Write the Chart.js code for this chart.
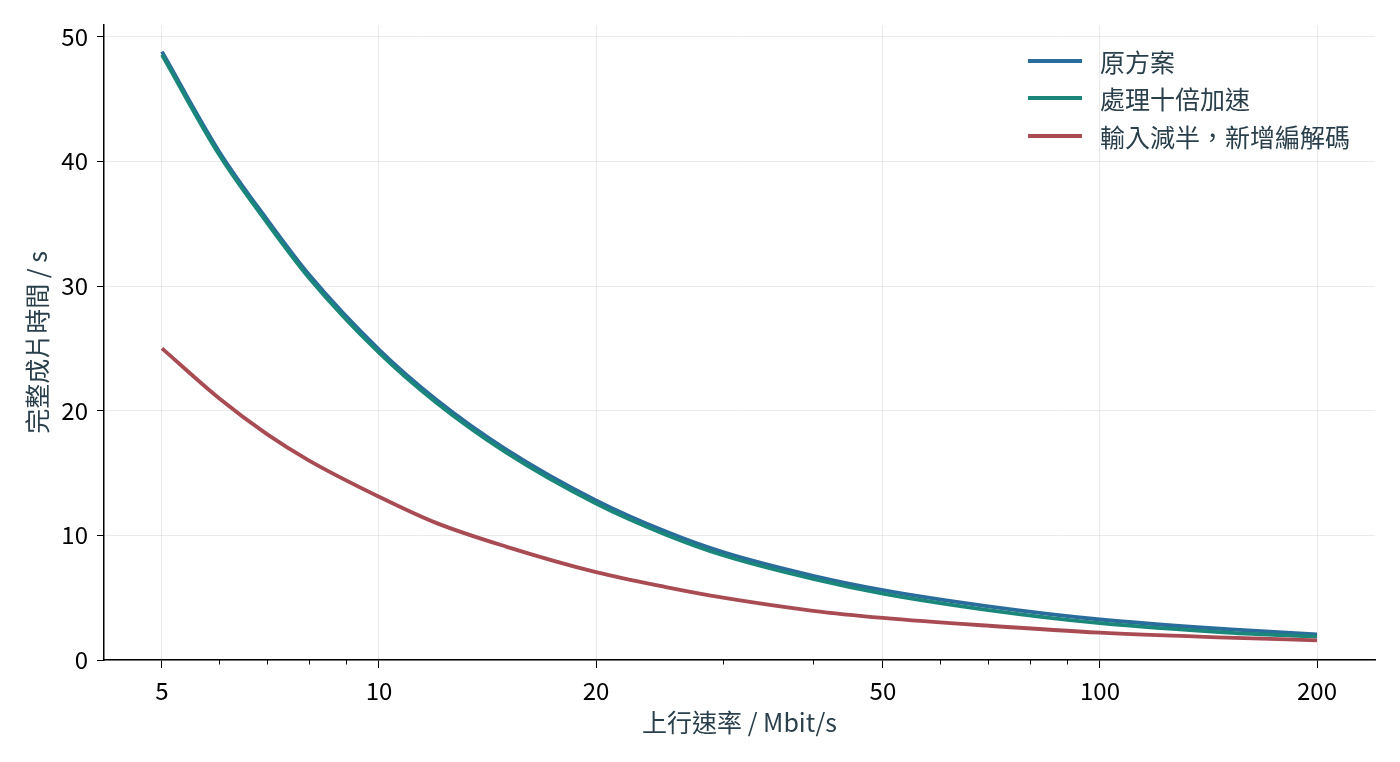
<!DOCTYPE html>
<html>
<head>
<meta charset="utf-8">
<script src="https://cdn.jsdelivr.net/npm/chart.js@4.4.1/dist/chart.umd.min.js"></script>
<style>
  body { margin: 0; background: #fff; }
  #wrap { position: relative; width: 1400px; height: 762px; }
  #legend { position: absolute; left: 1028px; top: 42px; font-family: "Noto Sans CJK TC", sans-serif; font-size: 25px; color: #2a3f4c; }
  #legend .row { display: flex; align-items: center; height: 37.5px; }
  #legend .swatch { width: 54px; height: 4px; margin-right: 18px; }
</style>
</head>
<body>
<div id="wrap">
  <canvas id="chart"></canvas>
  <div id="legend"></div>
</div>
<script>
// upload rate (Mbit/s) and total render time (s)
const rates = [5, 6, 7, 8, 10, 12, 15, 20, 25, 30, 40, 50, 70, 100, 150, 200];
const baseTimes = [48.8, 40.8, 35.3, 30.9, 24.9, 20.9, 16.9, 12.8, 10.3, 8.65, 6.75, 5.6, 4.3, 3.25, 2.47, 2.05];
const fastTimes = [48.55, 40.55, 35.05, 30.65, 24.65, 20.65, 16.65, 12.55, 10.05, 8.4, 6.5, 5.32, 4.0, 2.95, 2.2, 1.87];
const halfTimes = [25.0, 21.0, 18.1, 16.0, 13.1, 11.0, 9.1, 7.05, 5.85, 5.0, 3.95, 3.38, 2.75, 2.19, 1.8, 1.58];

const seriesNames = ['原方案', '處理十倍加速', '輸入減半，新增編解碼'];
const seriesColors = ['#2a6c9b', '#1a877a', '#a84b53'];

const xMajor = [5, 10, 20, 50, 100, 200];
const xMinor = [6, 7, 8, 9, 30, 40, 60, 70, 80, 90];
const yTicks = [0, 10, 20, 30, 40, 50];

const FONT = '"Noto Sans CJK TC", "Noto Sans", sans-serif';
const titleColor = '#2a3f4c';
const gridColor = 'rgba(0,0,0,0.08)';

const toPoints = arr => rates.map((r, i) => ({ x: r, y: arr[i] }));

// short minor tick marks under the x axis
const minorTicks = {
  id: 'minorTicks',
  afterDraw(chart) {
    const sx = chart.scales.x;
    const ctx = chart.ctx;
    const y0 = chart.chartArea.bottom;
    ctx.save();
    ctx.strokeStyle = '#000';
    ctx.lineWidth = 1;
    xMinor.forEach(v => {
      const px = Math.round(sx.getPixelForValue(v)) + 0.5;
      ctx.beginPath();
      ctx.moveTo(px, y0);
      ctx.lineTo(px, y0 + 4.5);
      ctx.stroke();
    });
    ctx.restore();
  }
};

const chart = new Chart(document.getElementById('chart'), {
  type: 'line',
  data: {
    datasets: [
      { label: seriesNames[0], data: toPoints(baseTimes), borderColor: seriesColors[0], order: 3 },
      { label: seriesNames[1], data: toPoints(fastTimes), borderColor: seriesColors[1], order: 2 },
      { label: seriesNames[2], data: toPoints(halfTimes), borderColor: seriesColors[2], order: 1 }
    ]
  },
  options: {
    responsive: true,
    maintainAspectRatio: false,
    animation: false,
    layout: { padding: { top: 25, right: 25, left: 0, bottom: 0 } },
    elements: {
      point: { radius: 0 },
      line: { borderWidth: 3.8, fill: false, cubicInterpolationMode: 'monotone' }
    },
    plugins: { legend: { display: false }, tooltip: { enabled: false } },
    scales: {
      x: {
        type: 'logarithmic',
        min: 4.155,
        max: 240.7,
        afterBuildTicks: s => { s.ticks = xMajor.concat(xMinor).sort((a, b) => a - b).map(v => ({ value: v })); },
        afterFit: s => { s.height = 102; },
        border: { color: '#000', width: 1.5 },
        grid: {
          color: c => xMajor.includes(c.tick && c.tick.value) ? gridColor : 'transparent',
          tickColor: c => xMajor.includes(c.tick && c.tick.value) ? '#000' : 'transparent',
          tickLength: 8,
          lineWidth: 1
        },
        ticks: {
          autoSkip: false,
          maxRotation: 0,
          padding: 8,
          color: '#000',
          font: { family: FONT, size: 24 },
          callback: v => xMajor.includes(v) ? String(v) : ''
        },
        title: {
          display: true,
          text: '上行速率 / Mbit/s',
          color: titleColor,
          font: { family: FONT, size: 25 },
          padding: { top: 0, bottom: 25 }
        }
      },
      y: {
        min: 0,
        max: 50.94,
        afterBuildTicks: s => { s.ticks = yTicks.map(v => ({ value: v })); },
        afterFit: s => { s.width = 104; },
        border: { color: '#000', width: 1.5 },
        grid: { color: gridColor, tickColor: '#000', tickLength: 7, lineWidth: 1 },
        ticks: {
          padding: 9,
          color: '#000',
          font: { family: FONT, size: 24 }
        },
        title: {
          display: true,
          text: '完整成片時間 / s',
          color: titleColor,
          font: { family: FONT, size: 25 },
          padding: { top: 22, bottom: 0 }
        }
      }
    }
  },
  plugins: [minorTicks]
});

// legend inside the plot, top right
const legend = document.getElementById('legend');
seriesNames.forEach((name, i) => {
  const row = document.createElement('div');
  row.className = 'row';
  const sw = document.createElement('span');
  sw.className = 'swatch';
  sw.style.background = seriesColors[i];
  const txt = document.createElement('span');
  txt.textContent = name;
  row.appendChild(sw);
  row.appendChild(txt);
  legend.appendChild(row);
});
</script>
</body>
</html>
